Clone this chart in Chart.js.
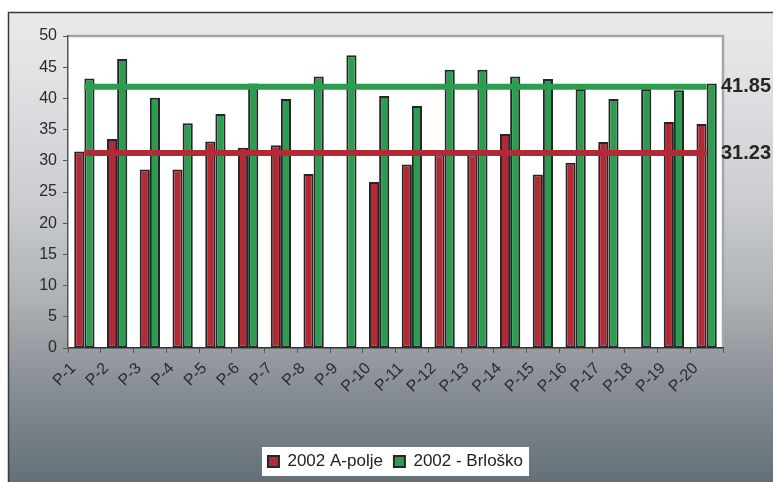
<!DOCTYPE html>
<html><head><meta charset="utf-8">
<script src="https://cdn.jsdelivr.net/npm/chart.js@4/dist/chart.umd.min.js"></script>
<style>html,body{margin:0;padding:0;background:#fff;}#wrap{width:773px;height:482px;}</style>
</head><body><div id="wrap"><canvas id="c" width="773" height="482"></canvas></div>
<script>
const categories = ['P-1','P-2','P-3','P-4','P-5','P-6','P-7','P-8','P-9','P-10','P-11','P-12','P-13','P-14','P-15','P-16','P-17','P-18','P-19','P-20'];
const seriesA = [31.5,33.5,28.6,28.6,33.1,32.1,32.5,27.9,null,26.6,29.4,31.0,31.0,34.3,27.8,29.7,33.0,null,36.2,35.9];
const seriesB = [43.2,46.3,40.1,36.0,37.5,42.4,39.9,43.5,46.9,40.4,38.8,44.6,44.6,43.5,43.1,41.5,39.9,41.5,41.3,42.4];
const seriesNames = ['2002 A-polje','2002 - Brloško'];
const meanA = 31.23;
const meanB = 41.85;
const yMin = 0, yMax = 50, yStep = 5;

const RED = '#b22a35', GREEN = '#2c9c50';
const FONT = '"Liberation Sans", Arial, sans-serif';

const bgPlugin = {
  id: 'bg',
  beforeDraw(chart) {
    const {ctx, width, height, chartArea: ca} = chart;
    ctx.save();
    ctx.fillStyle = '#fff';
    ctx.fillRect(0, 0, width, height);
    const g = ctx.createLinearGradient(0, 12, 0, height);
    g.addColorStop(0, '#e8e9eb');
    g.addColorStop(0.10, '#e4e5e7');
    g.addColorStop(0.40, '#cbcdd0');
    g.addColorStop(0.61, '#aeb1b5');
    g.addColorStop(0.74, '#93999e');
    g.addColorStop(0.87, '#7a8389');
    g.addColorStop(1, '#646f78');
    ctx.fillStyle = g;
    ctx.fillRect(8, 12, width - 8, height - 12);
    ctx.strokeStyle = '#3a3a3a';
    ctx.lineWidth = 1.5;
    ctx.beginPath();
    ctx.moveTo(8.5, height); ctx.lineTo(8.5, 12.5); ctx.lineTo(width, 12.5);
    ctx.stroke();
    ctx.fillStyle = '#fff';
    ctx.fillRect(ca.left, ca.top, ca.right - ca.left, ca.bottom - ca.top);
    ctx.strokeStyle = '#a3a6aa';
    ctx.lineWidth = 2.5;
    ctx.beginPath();
    ctx.moveTo(ca.left, ca.top); ctx.lineTo(ca.right, ca.top); ctx.lineTo(ca.right, ca.bottom);
    ctx.stroke();
    const lg = chart.legend;
    if (lg && lg.legendHitBoxes && lg.legendHitBoxes.length) {
      const hb = lg.legendHitBoxes;
      let x0 = Infinity, x1 = -Infinity, y0 = Infinity, y1 = -Infinity;
      hb.forEach(h => { x0 = Math.min(x0, h.left); x1 = Math.max(x1, h.left + h.width); y0 = Math.min(y0, h.top); y1 = Math.max(y1, h.top + h.height); });
      ctx.fillStyle = '#fff';
      ctx.fillRect(x0 - 6, y0 - 6, x1 - x0 + 12, y1 - y0 + 12);
    }
    ctx.restore();
  }
};

const labelPlugin = {
  id: 'meanLabels',
  afterDatasetsDraw(chart) {
    const {ctx, chartArea: ca, scales: {y}} = chart;
    ctx.save();
    ctx.font = 'bold 20px ' + FONT;
    ctx.fillStyle = '#262626';
    ctx.textAlign = 'left';
    ctx.textBaseline = 'middle';
    [meanB, meanA].forEach(v => ctx.fillText(v.toFixed(2), ca.right - 2, y.getPixelForValue(v)));
    ctx.restore();
  }
};

new Chart(document.getElementById('c'), {
  data: {
    labels: categories,
    datasets: [
      {type: 'bar', label: seriesNames[0], data: seriesA, backgroundColor: RED, borderColor: '#262626', borderWidth: 2, borderSkipped: false, order: 2, categoryPercentage: 0.62, barPercentage: 1.0},
      {type: 'bar', label: seriesNames[1], data: seriesB, backgroundColor: GREEN, borderColor: '#262626', borderWidth: 2, borderSkipped: false, order: 2, categoryPercentage: 0.62, barPercentage: 1.0},
      {type: 'line', label: 'meanB', data: [{x: categories[0], y: meanB}, {x: categories[categories.length - 1], y: meanB}], borderColor: GREEN, borderWidth: 6, pointRadius: 0, order: 1, borderCapStyle: 'butt'},
      {type: 'line', label: 'meanA', data: [{x: categories[0], y: meanA}, {x: categories[categories.length - 1], y: meanA}], borderColor: RED, borderWidth: 6, pointRadius: 0, order: 1, borderCapStyle: 'butt'}
    ]
  },
  options: {
    responsive: false,
    animation: false,
    devicePixelRatio: 1,
    layout: {padding: {top: 36, right: 50, left: 0, bottom: 2}},
    plugins: {
      tooltip: {enabled: false},
      legend: {
        position: 'bottom',
        fullSize: false,
        labels: {
          filter: (item) => item.datasetIndex < 2,
          boxWidth: 11, boxHeight: 11, padding: 11,
          color: '#222',
          font: {family: FONT, size: 17}
        }
      }
    },
    scales: {
      x: {
        type: 'category',
        offset: true,
        grid: {display: true, drawOnChartArea: false, drawTicks: true, tickLength: 5, color: '#555', offset: true},
        border: {display: true, color: '#333', width: 1.5},
        ticks: {maxRotation: 45, minRotation: 45, labelOffset: -11, padding: 6, color: '#2a2a2a', font: {family: FONT, size: 16}},
        afterFit: (s) => { s.height = 94; }
      },
      y: {
        min: yMin, max: yMax,
        grid: {display: true, drawOnChartArea: false, drawTicks: true, tickLength: 5, color: '#555'},
        border: {display: true, color: '#555', width: 1.5},
        ticks: {stepSize: yStep, padding: 6, color: '#2a2a2a', font: {family: FONT, size: 16}},
        afterFit: (s) => { s.width = 68; }
      }
    }
  },
  plugins: [bgPlugin, labelPlugin]
});
</script>
</body></html>
